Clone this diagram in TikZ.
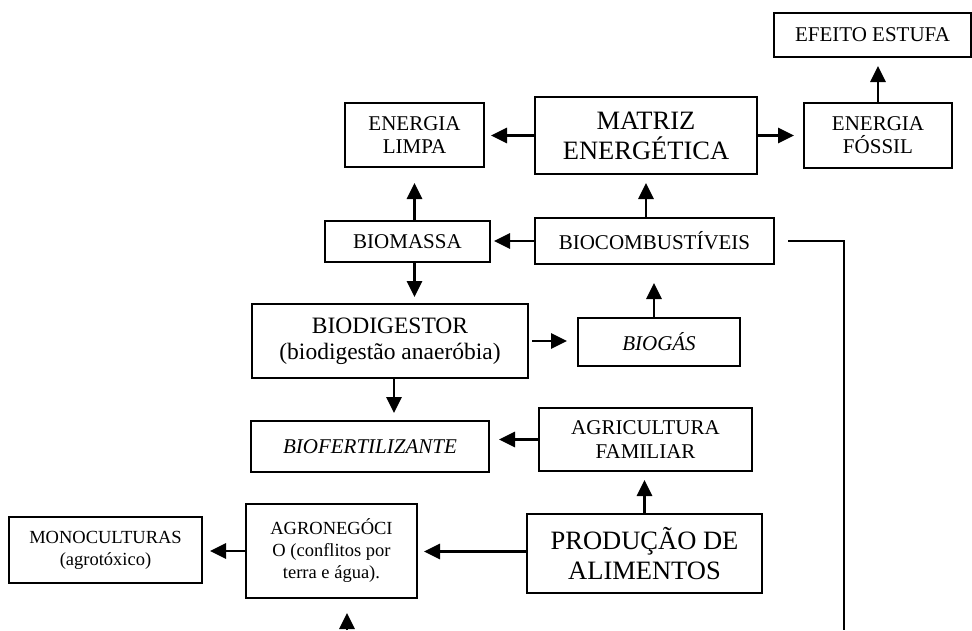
\documentclass[tikz,border=0pt]{standalone}
\usepackage{fontspec}
\setmainfont{Liberation Serif}
\usetikzlibrary{arrows.meta}
\tikzset{
	box/.style = {
		rectangle,
		align=center,
		inner sep=0pt,
		draw=black,
		line width=2pt,
		font=\fontsize{21}{23.5}\selectfont
	},
	box_m/.style = {
		box,
		font=\fontsize{23.5}{26}\selectfont
	},
	box_l/.style = {
		box,
		font=\fontsize{26.5}{30}\selectfont
	},
	box_t/.style = {
		box,
		font=\fontsize{18.5}{22}\selectfont
	},
	box_i/.style = {
		box,
		font=\fontsize{21}{23.5}\selectfont\itshape
	},
}
\begin{document}
\begin{tikzpicture}[->,>={Triangle[length=16pt,width=15pt]}, x=1pt, y=-1pt, line width=2.8pt]
\useasboundingbox (0,0) rectangle (972,630);
% top row
\node [box, minimum width=197pt, minimum height=44pt] (efeito) at (872.5,35) {EFEITO ESTUFA};
\node [box, minimum width=148pt, minimum height=65pt] (fossil) at (878,135) {ENERGIA\\FÓSSIL};
\node [box_l, minimum width=222pt, minimum height=77pt] (matriz) at (646,135.5) {MATRIZ\\ENERGÉTICA};
\node [box, minimum width=139pt, minimum height=64pt] (limpa) at (414.5,135) {ENERGIA\\LIMPA};
% middle
\node [box, minimum width=165pt, minimum height=41pt] (biomassa) at (407.5,241.5) {BIOMASSA};
\node [box, minimum width=239pt, minimum height=46pt] (biocomb) at (654.5,241) {BIOCOMBUSTÍVEIS};
\node [box_m, minimum width=276pt, minimum height=74pt] (biodig) at (390,341) {BIODIGESTOR\\(biodigestão anaeróbia)};
\node [box_i, minimum width=162pt, minimum height=48pt] (biogas) at (659,342) {BIOGÁS};
\node [box_i, minimum width=238pt, minimum height=51pt] (biofert) at (370,446.5) {BIOFERTILIZANTE};
\node [box, minimum width=213pt, minimum height=63pt] (agri) at (645.5,439.5) {AGRICULTURA\\FAMILIAR};
% bottom row
\node [box_l, minimum width=235pt, minimum height=79pt] (prod) at (644.5,553.5) {PRODUÇÃO DE\\ALIMENTOS};
\node [box_t, minimum width=171pt, minimum height=94pt] (agro) at (331.5,551) {AGRONEGÓCI\\O (conflitos por\\terra e água).};
\node [box_t, minimum width=193pt, minimum height=66pt] (mono) at (105.5,550) {MONOCULTURAS\\(agrotóxico)};
\coordinate (agro_in) at (347,630);
\coordinate (comb_out) at (844,630);

\draw [shorten >=6pt] (matriz.west) -- (matriz.west -| limpa.east);
\draw [shorten >=9pt] (matriz.east) -- (matriz.east -| fossil.west);
\draw [shorten >=8pt] (fossil.north) -- (fossil.north |- efeito.south);
\draw [shorten >=8pt] (matriz.south |- biocomb.north) -- (matriz.south);
\draw [shorten >=3pt] (biocomb.west) -- (biocomb.west -| biomassa.east);
\draw [shorten >=15pt] (limpa.south |- biomassa.north) -- (limpa.south);
\draw [shorten >=6pt] (biomassa.south -| limpa.south) -- (biodig.north -| limpa.south);
\draw [shorten <=3pt, shorten >=10pt] (biodig.east) -- (biodig.east -| biogas.west);
\draw [shorten >=18pt] ([xshift=-5pt]biogas.north) -- ([xshift=-5pt]biogas.north |- biocomb.south);
\draw [shorten >=7pt] ([xshift=4pt]biodig.south) -- ([xshift=4pt]biodig.south |- biofert.north);
\draw [shorten >=9pt] (agri.west) -- (agri.west -| biofert.east);
\draw [shorten >=8pt] (prod.north) -- (prod.north |- agri.south);
\draw [shorten >=6pt] ([yshift=2pt]prod.west) -- ([yshift=2pt]prod.west -| agro.east);
\draw [shorten >=7pt] (agro.west) -- (agro.west -| mono.east);
\draw [shorten >=14pt] (agro_in) -- (agro_in |- agro.south);
\draw [-] ([xshift=13pt]biocomb.east) -| (comb_out);
\end{tikzpicture}
\end{document}
